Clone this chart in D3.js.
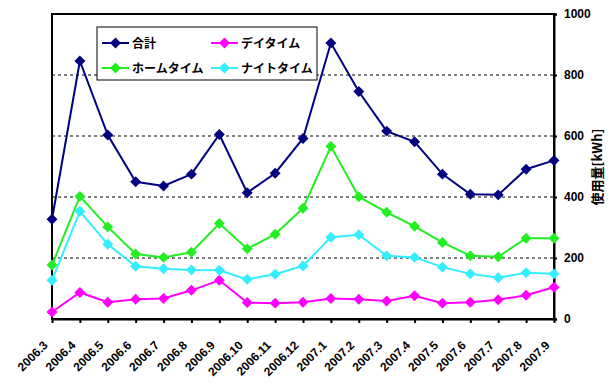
<!DOCTYPE html>
<html>
<head>
<meta charset="utf-8">
<script src="https://cdn.jsdelivr.net/npm/d3@7"></script>
<style>
  body { margin: 0; background: #fff; }
  text { font-family: "Noto Sans CJK JP", "Liberation Sans", sans-serif; font-weight: bold; }
</style>
</head>
<body>
<div class="chart"></div>
<script>
// Chart size
let width = 611;
let height = 384;

// Plot area
let margin = { top: 14, right: 57, bottom: 65, left: 52 };

// Data
const months = ["2006.3", "2006.4", "2006.5", "2006.6", "2006.7", "2006.8", "2006.9", "2006.10",
    "2006.11", "2006.12", "2007.1", "2007.2", "2007.3", "2007.4", "2007.5", "2007.6", "2007.7",
    "2007.8", "2007.9"];
const total = [327, 846, 603, 450, 436, 475, 605, 414, 478, 592, 905, 746, 616, 581, 475, 409, 407, 491, 520];
const daytime = [23, 87, 55, 65, 67, 94, 127, 54, 52, 55, 67, 65, 59, 76, 52, 55, 63, 78, 104];
const hometime = [177, 402, 302, 213, 202, 219, 313, 230, 278, 363, 566, 401, 350, 304, 251, 207, 204, 265, 265];
const nighttime = [127, 353, 245, 173, 165, 161, 160, 130, 147, 174, 268, 276, 207, 202, 170, 148, 135, 152, 148];
const yTicks = [0, 200, 400, 600, 800, 1000];

const series = [
    { name: "合計", values: total, color: "#000080" },
    { name: "デイタイム", values: daytime, color: "#ff00ff" },
    { name: "ホームタイム", values: hometime, color: "#22ee22" },
    { name: "ナイトタイム", values: nighttime, color: "#33eeff" }
];

let svg = d3.select(".chart").append("svg")
    .attr("width", width)
    .attr("height", height);

const plotW = width - margin.left - margin.right;
const plotH = height - margin.top - margin.bottom;

const xScale = d3.scalePoint()
    .domain(months)
    .range([0, plotW]);

const yScale = d3.scaleLinear()
    .domain([0, 1000])
    .range([plotH, 0]);

const g = svg.append("g")
    .attr("transform", `translate(${margin.left}, ${margin.top})`);

// Dashed gridlines
g.selectAll(".grid")
    .data(yTicks.filter(d => d > 0 && d < 1000))
    .enter().append("line")
    .attr("x1", 0).attr("x2", plotW)
    .attr("y1", d => yScale(d)).attr("y2", d => yScale(d))
    .attr("stroke", "#000")
    .attr("stroke-width", 1)
    .attr("stroke-dasharray", "3,3");

// Frame
g.append("rect")
    .attr("width", plotW).attr("height", plotH)
    .attr("fill", "none")
    .attr("stroke", "#000")
    .attr("stroke-width", 2);

// Right axis
const yAxis = g.append("g")
    .attr("transform", `translate(${plotW}, 0)`)
    .call(d3.axisRight(yScale).tickValues(yTicks).tickFormat(d3.format("d")).tickSize(3).tickPadding(7));
yAxis.select(".domain").attr("stroke-width", 2);
yAxis.selectAll("line").attr("stroke-width", 2);
yAxis.selectAll("text")
    .style("font-size", "12px")
    .style("font-family", "'Liberation Sans', sans-serif")
    .attr("fill", "#000");

// Bottom axis
const xAxis = g.append("g")
    .attr("transform", `translate(0, ${plotH})`)
    .call(d3.axisBottom(xScale).tickSize(4).tickSizeOuter(0));
xAxis.select(".domain").attr("stroke-width", 2);
xAxis.selectAll("line").attr("stroke-width", 2);
xAxis.selectAll("text")
    .style("font-size", "12px")
    .style("font-family", "'Liberation Sans', sans-serif")
    .attr("fill", "#000")
    .attr("text-anchor", "end")
    .attr("dy", null)
    .attr("y", 0)
    .attr("transform", "translate(-4, 27) rotate(-45)");

// Axis title
svg.append("text")
    .attr("transform", `translate(602, 167) rotate(-90)`)
    .attr("text-anchor", "middle")
    .style("font-size", "13px")
    .text("使用量[kWh]");

// Lines and diamond markers
const line = d3.line()
    .x((d, i) => xScale(months[i]))
    .y(d => yScale(d));

const diamond = d3.symbol().type(d3.symbolSquare).size(60);

series.forEach(s => {
    g.append("path")
        .datum(s.values)
        .attr("d", line)
        .attr("fill", "none")
        .attr("stroke", s.color)
        .attr("stroke-width", 2);

    g.selectAll(null)
        .data(s.values)
        .enter().append("path")
        .attr("d", diamond)
        .attr("transform", (d, i) => `translate(${xScale(months[i])}, ${yScale(d)}) rotate(45)`)
        .attr("fill", s.color);
});

// Legend
const legend = svg.append("g");
legend.append("rect")
    .attr("x", 97).attr("y", 27)
    .attr("width", 220).attr("height", 53)
    .attr("fill", "#fff")
    .attr("stroke", "#000")
    .attr("stroke-width", 1);

const legendPos = [[102, 43], [211, 43], [102, 68], [211, 68]];
series.forEach((s, i) => {
    const [lx, ly] = legendPos[i];
    legend.append("line")
        .attr("x1", lx).attr("x2", lx + 27)
        .attr("y1", ly).attr("y2", ly)
        .attr("stroke", s.color)
        .attr("stroke-width", 2);
    legend.append("path")
        .attr("d", diamond)
        .attr("transform", `translate(${lx + 13.5}, ${ly}) rotate(45)`)
        .attr("fill", s.color);
    legend.append("text")
        .attr("x", lx + 30).attr("y", ly + 4.5)
        .style("font-size", "12px")
        .text(s.name);
});
</script>
</body>
</html>
